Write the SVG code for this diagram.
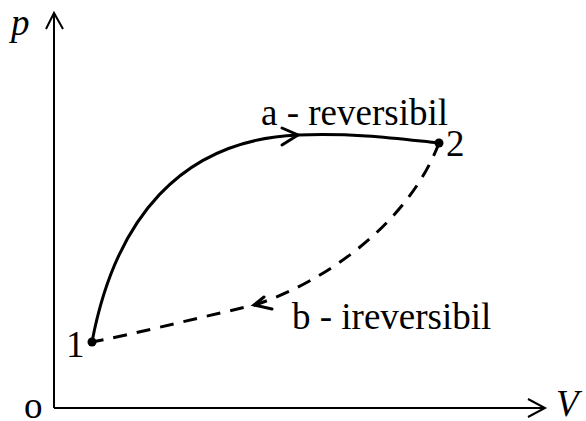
<svg xmlns="http://www.w3.org/2000/svg" width="586" height="421" viewBox="0 0 586 421">
<style>
.t{font-family:"Liberation Serif","Times New Roman",serif;font-size:37px;fill:#000}
.i{font-style:italic}
.ax{stroke:#000;stroke-width:2;fill:none}
.c{stroke:#000;stroke-width:3;fill:none;stroke-linecap:round}
.d{stroke-dasharray:14 10;stroke-linecap:butt}
.pt{fill:#000}
</style>
<rect width="586" height="421" fill="#fff"/>
<g id="axes">
<polyline class="ax" points="54,408 54,14"/>
<polyline class="ax" points="46,29 54,13 63,29"/>
<polyline class="ax" points="54,408 544,408"/>
<polyline class="ax" points="528,399 545,408 528,417"/>
<text class="t i" x="11" y="35">p</text>
<text class="t i" x="556" y="416">V</text>
<text class="t" x="24" y="418">o</text>
</g>
<g id="connectors">
<path id="a" class="c" d="M92,342 C115,220 180,140 298,135 C360,133 400,139 439,143"/>
<polyline class="c" points="282,128 298,135 282,145" stroke-width="2.5"/>
<path id="b" class="c d" d="M439,143 C410,220 330,280 255,305 C180,322 130,335 92,342"/>
<polyline class="c" points="264,297 254,305 272,309" stroke-width="2.5"/>
</g>
<g id="node1">
<circle class="pt" cx="92" cy="342" r="4.5"/>
<text class="t" x="66" y="357">1</text>
</g>
<g id="node2">
<circle class="pt" cx="439" cy="143" r="4.5"/>
<text class="t" x="446" y="156">2</text>
</g>
<g id="labels">
<text class="t" x="261" y="125">a - reversibil</text>
<text class="t" x="292" y="329">b - ireversibil</text>
</g>
</svg>
